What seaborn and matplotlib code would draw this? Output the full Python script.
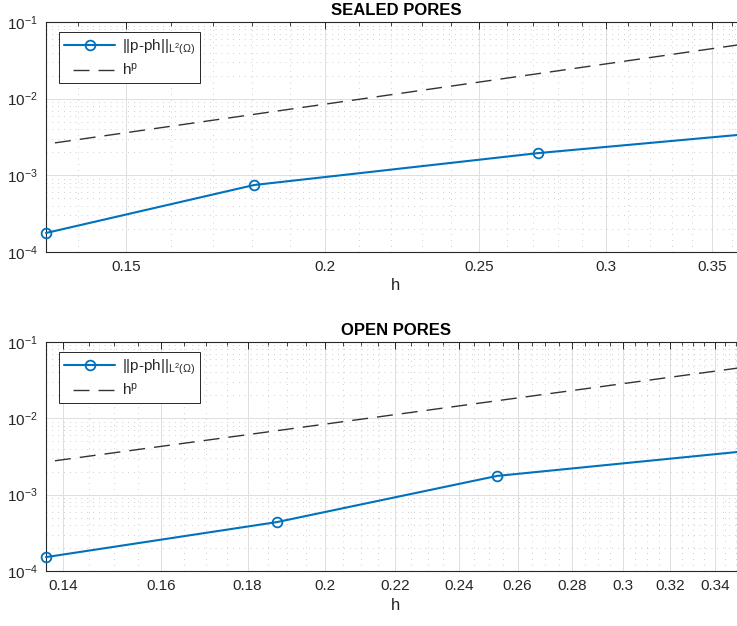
import numpy as np
import matplotlib
matplotlib.use("Agg")
import matplotlib.pyplot as plt
import matplotlib.ticker as mticker
import seaborn as sns

# Values
h_sealed = [0.1336, 0.1805, 0.2721, 0.3675]
err_sealed = [1.77e-4, 7.48e-4, 1.95e-3, 3.44e-3]
hp_sealed = [2.55e-3, 6.25e-3, 2.12e-2, 5.20e-2]

h_open = [0.1368, 0.1874, 0.2528, 0.3548]
err_open = [1.52e-4, 4.38e-4, 1.76e-3, 3.72e-3]
hp_open = [2.68e-3, 6.9e-3, 1.70e-2, 4.71e-2]

titles = ['SEALED PORES', 'OPEN PORES']
xmajor_sealed = [0.15, 0.2, 0.25, 0.3, 0.35]
xmajor_open = [0.14, 0.16, 0.18, 0.2, 0.22, 0.24, 0.26, 0.28, 0.3, 0.32, 0.34]
xlabels_sealed = ['0.15', '0.2', '0.25', '0.3', '0.35']
xlabels_open = ['0.14', '0.16', '0.18', '0.2', '0.22', '0.24', '0.26', '0.28', '0.3', '0.32', '0.34']
err_label = '||p-ph||$_{L^{2}(\\Omega)}$'
hp_label = 'h$^{p}$'

sns.set_theme(style='white')
plt.rcParams['font.family'] = ['Liberation Sans', 'DejaVu Sans']
plt.rcParams['mathtext.fontset'] = 'custom'
plt.rcParams['mathtext.rm'] = 'Liberation Sans'
plt.rcParams['mathtext.it'] = 'Liberation Sans:italic'
plt.rcParams['mathtext.bf'] = 'Liberation Sans:bold'
plt.rcParams['mathtext.default'] = 'regular'

blue = '#0072BD'
dark = '#262626'

fig = plt.figure(figsize=(7.37, 6.26), dpi=100)
ax1 = fig.add_axes([46 / 737, 1 - 252 / 626, 700 / 737, 230 / 626])
ax2 = fig.add_axes([46 / 737, 1 - 571 / 626, 700 / 737, 229 / 626])

panels = [
    (ax1, h_sealed, err_sealed, hp_sealed, xmajor_sealed, xlabels_sealed, 0.01),
    (ax2, h_open, err_open, hp_open, xmajor_open, xlabels_open, 0.005),
]

for i, (ax, h, err, hp, xmaj, xlab, mstep) in enumerate(panels):
    sns.lineplot(x=h, y=err, ax=ax, color=blue, lw=1.5, marker='o',
                 markersize=7, markerfacecolor='none', markeredgecolor=blue,
                 markeredgewidth=1.3, label=err_label, clip_on=False, zorder=4)
    sns.lineplot(x=h, y=hp, ax=ax, color='#333333', lw=1.0,
                 linestyle=(11.5, (11.5, 6.5)), label=hp_label, zorder=3)
    ax.set_xscale('log')
    ax.set_yscale('log')
    ax.set_xlim(h[0], h[-1])
    ax.set_ylim(1e-4, 1e-1)

    ax.xaxis.set_major_locator(mticker.FixedLocator(xmaj))
    ax.xaxis.set_major_formatter(mticker.FixedFormatter(xlab))
    minors = np.arange(0.13, 0.38, mstep)
    minors = [m for m in minors if min(abs(m - x) for x in xmaj) > 1e-6]
    ax.xaxis.set_minor_locator(mticker.FixedLocator(minors))
    ax.xaxis.set_minor_formatter(mticker.NullFormatter())
    ax.yaxis.set_major_locator(mticker.LogLocator(base=10, numticks=10))
    ax.yaxis.set_minor_locator(mticker.LogLocator(base=10, subs=np.arange(2, 10), numticks=20))
    ax.yaxis.set_minor_formatter(mticker.NullFormatter())

    ax.grid(True, which='major', color='#dedede', lw=0.7, ls='-', zorder=0)
    ax.grid(True, which='minor', color='#bdbdbd', lw=0.6, ls=(0, (1, 6)), zorder=0)
    ax.set_axisbelow(True)

    ax.tick_params(which='both', direction='in', top=True, right=True,
                   color=dark, labelcolor=dark, labelsize=11)
    ax.tick_params(which='major', length=5, width=0.7, pad=6)
    ax.tick_params(which='minor', length=3, width=0.6)
    for s in ax.spines.values():
        s.set_color(dark)
        s.set_linewidth(0.8)

    ax.set_xlabel('h', fontsize=12, color=dark, labelpad=3)
    ax.set_ylabel('')
    ax.set_title(titles[i], fontsize=12, fontweight='bold', color='black', pad=5)

    leg = ax.legend(loc='upper left', bbox_to_anchor=(13 / 700, 1 - 10 / 230),
                    borderaxespad=0, fontsize=11, frameon=True, fancybox=False,
                    framealpha=1, edgecolor=dark, handlelength=3.3,
                    handletextpad=0.45, borderpad=0.35, labelspacing=0.35)
    leg.get_frame().set_linewidth(0.7)

fig.savefig('out.png', dpi=100)
